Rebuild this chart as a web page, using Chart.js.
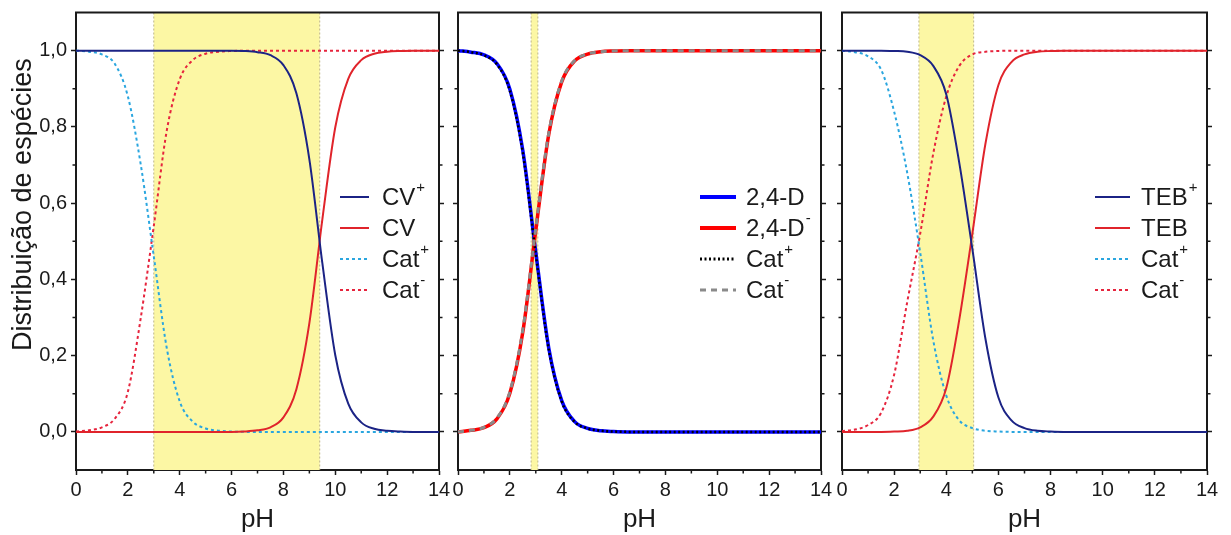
<!DOCTYPE html>
<html>
<head>
<meta charset="utf-8">
<script src="https://cdn.jsdelivr.net/npm/chart.js@4.4.1/dist/chart.umd.min.js"></script>
<style>
  body { margin: 0; background: #fff; width: 1231px; height: 535px; overflow: hidden; position: relative; }
  canvas { position: absolute; top: 0; }
</style>
</head>
<body>
<canvas id="c1" width="450" height="535" style="left:0px"></canvas>
<canvas id="c2" width="382" height="535" style="left:450px"></canvas>
<canvas id="c3" width="399" height="535" style="left:832px"></canvas>
<script>
// pH grid shared by all three panels
const pH = [0,0.5,1,1.5,2,2.5,3,3.5,4,4.5,5,5.5,6,6.5,7,7.5,8,8.5,9,9.5,10,10.5,11,11.5,12,12.5,13,13.5,14];

// panel 1 - CV
const cvPlus    = [1,1,1,1,1,1,1,1,1,1,1,1,1,0.999,0.996,0.988,0.962,0.888,0.715,0.443,0.201,0.074,0.025,0.008,0.003,0.001,0,0,0];
const cv        = [0,0,0,0,0,0,0,0,0,0,0,0,0,0.001,0.004,0.012,0.038,0.112,0.285,0.557,0.799,0.926,0.975,0.992,0.997,0.999,1,1,1];
const cat1Plus  = [1,0.997,0.990,0.965,0.880,0.700,0.460,0.220,0.080,0.027,0.009,0.003,0.001,0,0,0,0,0,0,0,0,0,0,0,0,0,0,0,0];
const cat1Minus = [0.001,0.004,0.012,0.035,0.105,0.300,0.540,0.790,0.925,0.975,0.992,0.997,0.999,1,1,1,1,1,1,1,1,1,1,1,1,1,1,1,1];

// panel 2 - 2,4-D
const d24       = [1,0.996,0.989,0.966,0.899,0.738,0.471,0.220,0.082,0.027,0.009,0.003,0.001,0,0,0,0,0,0,0,0,0,0,0,0,0,0,0,0];
const d24Minus  = [0,0.004,0.011,0.034,0.101,0.262,0.529,0.780,0.918,0.973,0.991,0.997,0.999,1,1,1,1,1,1,1,1,1,1,1,1,1,1,1,1];
const cat2Plus  = [1,0.996,0.988,0.964,0.895,0.732,0.466,0.216,0.080,0.026,0.009,0.003,0.001,0,0,0,0,0,0,0,0,0,0,0,0,0,0,0,0];
const cat2Minus = [0,0.004,0.012,0.036,0.105,0.268,0.534,0.784,0.920,0.974,0.991,0.997,0.999,1,1,1,1,1,1,1,1,1,1,1,1,1,1,1,1];

// panel 3 - TEB
const tebPlus   = [1,1,1,1,0.999,0.997,0.988,0.960,0.885,0.705,0.480,0.245,0.090,0.030,0.010,0.003,0.001,0,0,0,0,0,0,0,0,0,0,0,0];
const teb       = [0,0,0,0,0.001,0.003,0.012,0.040,0.115,0.295,0.520,0.755,0.910,0.970,0.990,0.997,0.999,1,1,1,1,1,1,1,1,1,1,1,1];
const cat3Plus  = [1,0.996,0.985,0.950,0.840,0.680,0.470,0.240,0.095,0.030,0.010,0.003,0.001,0,0,0,0,0,0,0,0,0,0,0,0,0,0,0,0];
const cat3Minus = [0.002,0.006,0.018,0.050,0.150,0.340,0.520,0.730,0.880,0.960,0.990,0.997,0.999,1,1,1,1,1,1,1,1,1,1,1,1,1,1,1,1];

// highlighted pH windows
const band1 = [3.0, 9.4];
const band2 = [2.82, 3.08];
const band3 = [2.95, 5.05];

// ticks
const xTicks = [0,2,4,6,8,10,12,14];
const xMinor = [1,3,5,7,9,11,13];
const yTicks = [0,0.2,0.4,0.6,0.8,1.0];
const yMinor = [0.1,0.3,0.5,0.7,0.9];

const FONT = "'Liberation Sans', Arial, sans-serif";
const INK = '#1a1a1a';

const pts = arr => pH.map((x, i) => ({x: x, y: arr[i]}));

function line(label, arr, color, width, dash, order) {
  return {
    label: label,
    data: pts(arr),
    borderColor: color,
    borderWidth: width,
    borderDash: dash || [],
    pointRadius: 0,
    fill: false,
    cubicInterpolationMode: 'monotone',
    order: order || 0
  };
}

// yellow window behind curves
const bandPlugin = {
  id: 'band',
  beforeDatasetsDraw(chart, args, opts) {
    const {ctx, chartArea: a, scales: {x}} = chart;
    const x0 = x.getPixelForValue(opts.range[0]);
    const x1 = x.getPixelForValue(opts.range[1]);
    ctx.save();
    ctx.fillStyle = '#fcf7a4';
    ctx.fillRect(x0, a.top, x1 - x0, a.bottom - a.top);
    ctx.strokeStyle = '#bdb68a';
    ctx.lineWidth = 1;
    ctx.setLineDash([2, 2]);
    [x0, x1].forEach(px => {
      ctx.beginPath();
      ctx.moveTo(px, a.top);
      ctx.lineTo(px, a.bottom);
      ctx.stroke();
    });
    ctx.restore();
  }
};

// frame top + minor ticks + y title + legend
const framePlugin = {
  id: 'frame',
  afterDraw(chart, args, opts) {
    const {ctx, chartArea: a, scales: {x, y}} = chart;
    ctx.save();
    ctx.strokeStyle = INK;
    ctx.lineWidth = 2;
    ctx.beginPath();
    ctx.moveTo(a.left - 1, a.top);
    ctx.lineTo(a.right + 1, a.top);
    ctx.stroke();
    ctx.lineWidth = 1.5;
    ctx.beginPath();
    xMinor.forEach(v => {
      const px = x.getPixelForValue(v);
      ctx.moveTo(px, a.bottom);
      ctx.lineTo(px, a.bottom + 3.5);
    });
    yMinor.forEach(v => {
      const py = y.getPixelForValue(v);
      ctx.moveTo(a.left, py);
      ctx.lineTo(a.left - 3.5, py);
      ctx.moveTo(a.right, py);
      ctx.lineTo(a.right + 3.5, py);
    });
    ctx.stroke();

    if (opts.yTitle) {
      ctx.save();
      ctx.translate(24, y.getPixelForValue(0.596));
      ctx.rotate(-Math.PI / 2);
      ctx.fillStyle = INK;
      ctx.font = '27px ' + FONT;
      ctx.textAlign = 'center';
      ctx.textBaseline = 'middle';
      ctx.fillText(opts.yTitle, 0, 0);
      ctx.restore();
    }

    // legend
    const lg = opts.legend;
    chart.data.datasets.forEach((ds, i) => {
      const yy = lg.y + i * 31;
      ctx.strokeStyle = ds.borderColor;
      ctx.lineWidth = lg.lw ? lg.lw[i] : ds.borderWidth;
      ctx.setLineDash(ds.borderDash);
      ctx.beginPath();
      ctx.moveTo(lg.x, yy);
      ctx.lineTo(lg.x + lg.len, yy);
      ctx.stroke();
      ctx.setLineDash([]);
      let txt = ds.label, sup = '';
      if (txt.endsWith('⁺')) { sup = '+'; txt = txt.slice(0, -1); }
      if (txt.endsWith('⁻')) { sup = '-'; txt = txt.slice(0, -1); }
      ctx.fillStyle = INK;
      ctx.textBaseline = 'middle';
      ctx.textAlign = 'left';
      ctx.font = '24px ' + FONT;
      const tx = lg.x + lg.len + lg.gap;
      ctx.fillText(txt, tx, yy + 1);
      if (sup) {
        const w = ctx.measureText(txt).width;
        ctx.font = '15px ' + FONT;
        ctx.fillText(sup, tx + w + 1, yy - 9);
      }
    });
    ctx.restore();
  }
};

function makePanel(id, datasets, band, legend, leftW, rightW, showY) {
  return new Chart(document.getElementById(id), {
    type: 'line',
    data: {datasets: datasets},
    options: {
      responsive: false,
      animation: false,
      layout: {padding: {top: 12.5, bottom: 0, left: 0, right: 0}},
      plugins: {
        legend: {display: false},
        tooltip: {enabled: false},
        band: {range: band},
        frame: {legend: legend, yTitle: showY ? 'Distribuição de espécies' : ''}
      },
      scales: {
        x: {
          type: 'linear', position: 'bottom', min: 0, max: 14,
          afterBuildTicks: s => { s.ticks = xTicks.map(v => ({value: v})); },
          afterFit: s => { s.height = 65; s.paddingLeft = 0; s.paddingRight = 0; },
          ticks: {color: INK, font: {family: FONT, size: 20}, padding: 3, maxRotation: 0},
          grid: {drawOnChartArea: false, tickLength: 5, tickColor: INK, tickWidth: 1.5},
          border: {color: INK, width: 2},
          title: {display: true, text: 'pH', color: INK, font: {family: FONT, size: 26}, padding: {top: 0, bottom: 0}}
        },
        y: {
          type: 'linear', position: 'left', min: -0.1, max: 1.1,
          afterBuildTicks: s => { s.ticks = yTicks.map(v => ({value: v})); },
          afterFit: s => { s.width = leftW; s.paddingTop = 0; s.paddingBottom = 0; },
          ticks: {display: showY, color: INK, font: {family: FONT, size: 20}, padding: 4,
                  callback: v => v.toFixed(1).replace('.', ',')},
          grid: {drawOnChartArea: false, tickLength: 5, tickColor: INK, tickWidth: 1.5},
          border: {color: INK, width: 2}
        },
        y2: {
          type: 'linear', position: 'right', min: -0.1, max: 1.1,
          afterBuildTicks: s => { s.ticks = yTicks.map(v => ({value: v})); },
          afterFit: s => { s.width = rightW; s.paddingTop = 0; s.paddingBottom = 0; },
          ticks: {display: false},
          grid: {drawOnChartArea: false, tickLength: 5, tickColor: INK, tickWidth: 1.5},
          border: {color: INK, width: 2}
        }
      }
    },
    plugins: [bandPlugin, framePlugin]
  });
}

makePanel('c1', [
  line('CV⁺', cvPlus, '#1b2385', 2),
  line('CV', cv, '#e0242b', 2),
  line('Cat⁺', cat1Plus, '#2aa6df', 2, [3, 3]),
  line('Cat⁻', cat1Minus, '#e6243d', 2, [3, 3])
], band1, {x: 340, y: 197, len: 29, gap: 13}, 76, 11, true);

makePanel('c2', [
  line('2,4-D', d24, '#0000ff', 3.5, null, 3),
  line('2,4-D⁻', d24Minus, '#ff0000', 3.5, null, 2),
  line('Cat⁺', cat2Plus, '#000000', 2.5, [2, 2.5], 1),
  line('Cat⁻', cat2Minus, '#8a8a8a', 3, [6, 5], 0)
], band2, {x: 250, y: 197, len: 36, gap: 10, lw: [4, 4, 3, 3]}, 8, 11, false);

makePanel('c3', [
  line('TEB⁺', tebPlus, '#1b2385', 2),
  line('TEB', teb, '#e0242b', 2),
  line('Cat⁺', cat3Plus, '#2aa6df', 2, [3, 3]),
  line('Cat⁻', cat3Minus, '#e6243d', 2, [3, 3])
], band3, {x: 263, y: 197, len: 35, gap: 11}, 10, 24, false);
</script>
</body>
</html>
